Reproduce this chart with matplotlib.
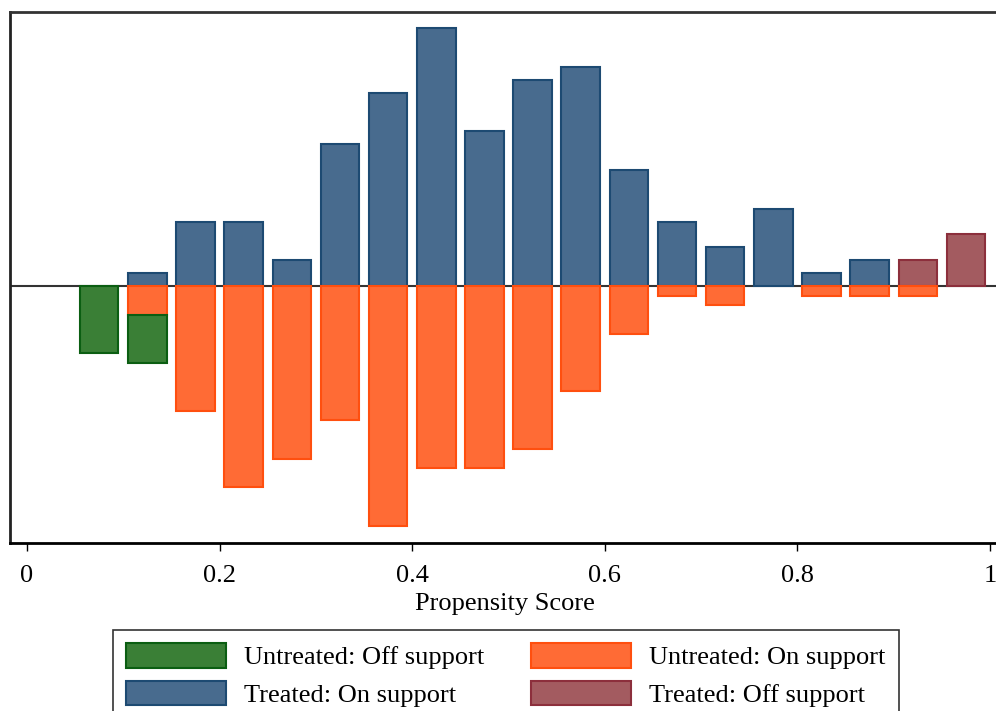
import matplotlib
matplotlib.use("Agg")
import matplotlib.pyplot as plt
from matplotlib.patches import Patch

plt.rcParams['font.family'] = ['Liberation Serif', 'DejaVu Serif']

# Bin centres of the propensity-score histogram (bin width 0.05)
bin_width = 0.05
bar_width = 0.04

treated_on_x = [0.125, 0.175, 0.225, 0.275, 0.325, 0.375, 0.425, 0.475, 0.525,
                0.575, 0.625, 0.675, 0.725, 0.775, 0.825, 0.875]
treated_on_n = [1, 5, 5, 2, 11, 15, 20, 12, 16, 17, 9, 5, 3, 6, 1, 2]

treated_off_x = [0.925, 0.975]
treated_off_n = [2, 4]

untreated_on_x = [0.125, 0.175, 0.225, 0.275, 0.325, 0.375, 0.425, 0.475, 0.525,
                  0.575, 0.625, 0.675, 0.725, 0.825, 0.875, 0.925]
untreated_on_n = [3, 13, 21, 18, 14, 25, 19, 19, 17, 11, 5, 1, 2, 1, 1, 1]

untreated_off_x = [0.075, 0.125]
untreated_off_n = [7, 5]
untreated_off_base = [0, 3]   # stacked under the on-support part

xticks = [0, 0.2, 0.4, 0.6, 0.8, 1]
xtick_labels = ["0", "0.2", "0.4", "0.6", "0.8", "1"]
xlabel = "Propensity Score"
labels = ["Untreated: Off support", "Treated: On support",
          "Untreated: On support", "Treated: Off support"]

# colours (fill, edge)
c_green = ("#3a7f36", "#0b5e12")
c_blue = ("#486b8e", "#1d4a72")
c_orange = ("#ff6b35", "#ff4f0f")
c_maroon = ("#a35b60", "#8c2f3c")

# densities per treatment group
t_total = sum(treated_on_n) + sum(treated_off_n)
u_total = sum(untreated_on_n) + sum(untreated_off_n)
t_scale = 1.0 / (t_total * bin_width)
u_scale = 1.0 / (u_total * bin_width)

W, H = 996, 711
fig = plt.figure(figsize=(W / 100, H / 100), dpi=100)

# axes in pixel geometry
ax_left_px, ax_right_px = 10, 1000
ax_top_px, ax_bot_px = 12, 543
ax = fig.add_axes([ax_left_px / W, (H - ax_bot_px) / H,
                   (ax_right_px - ax_left_px) / W, (ax_bot_px - ax_top_px) / H])

px_per_unit = 963.0
x0_px = 27
ax.set_xlim((ax_left_px - x0_px) / px_per_unit, (ax_right_px - x0_px) / px_per_unit)

dens_px = 87.7
base_px = 286
ax.set_ylim(-(ax_bot_px - base_px) / dens_px, (base_px - ax_top_px) / dens_px)

lw = 1.5
ax.axhline(0, color="#333333", lw=1.5, zorder=1)

ax.bar(treated_on_x, [n * t_scale for n in treated_on_n], width=bar_width,
       color=c_blue[0], edgecolor=c_blue[1], linewidth=lw, zorder=2)
ax.bar(treated_off_x, [n * t_scale for n in treated_off_n], width=bar_width,
       color=c_maroon[0], edgecolor=c_maroon[1], linewidth=lw, zorder=2)
ax.bar(untreated_on_x, [-n * u_scale for n in untreated_on_n], width=bar_width,
       color=c_orange[0], edgecolor=c_orange[1], linewidth=lw, zorder=2)
ax.bar(untreated_off_x, [-n * u_scale for n in untreated_off_n], width=bar_width,
       bottom=[-b * u_scale for b in untreated_off_base],
       color=c_green[0], edgecolor=c_green[1], linewidth=lw, zorder=2)

ax.set_xticks(xticks)
ax.set_xticklabels(xtick_labels, fontsize=19)
ax.set_yticks([])
ax.tick_params(axis="x", direction="out", length=6, width=1.0, pad=10, colors="black")
ax.set_xlabel(xlabel, fontsize=19, labelpad=4)

ax.spines["right"].set_visible(False)
ax.spines["left"].set_linewidth(2.0)
ax.spines["left"].set_color("#222222")
ax.spines["top"].set_linewidth(2.0)
ax.spines["top"].set_color("#333333")
ax.spines["bottom"].set_linewidth(2.0)
ax.spines["bottom"].set_color("black")

handles = [Patch(facecolor=c_green[0], edgecolor=c_green[1], linewidth=lw),
           Patch(facecolor=c_blue[0], edgecolor=c_blue[1], linewidth=lw),
           Patch(facecolor=c_orange[0], edgecolor=c_orange[1], linewidth=lw),
           Patch(facecolor=c_maroon[0], edgecolor=c_maroon[1], linewidth=lw)]

leg = fig.legend(handles, labels, ncol=2, loc="upper left",
                 bbox_to_anchor=(113 / W, (H - 630) / H),
                 fontsize=19, frameon=True, fancybox=False,
                 handlelength=3.8, handleheight=1.05, handletextpad=0.68,
                 columnspacing=1.75, labelspacing=0.43, borderpad=0.5,
                 borderaxespad=0)
leg.get_frame().set_edgecolor("black")
leg.get_frame().set_linewidth(1.2)

fig.savefig("out.png", dpi=100, facecolor="white")
